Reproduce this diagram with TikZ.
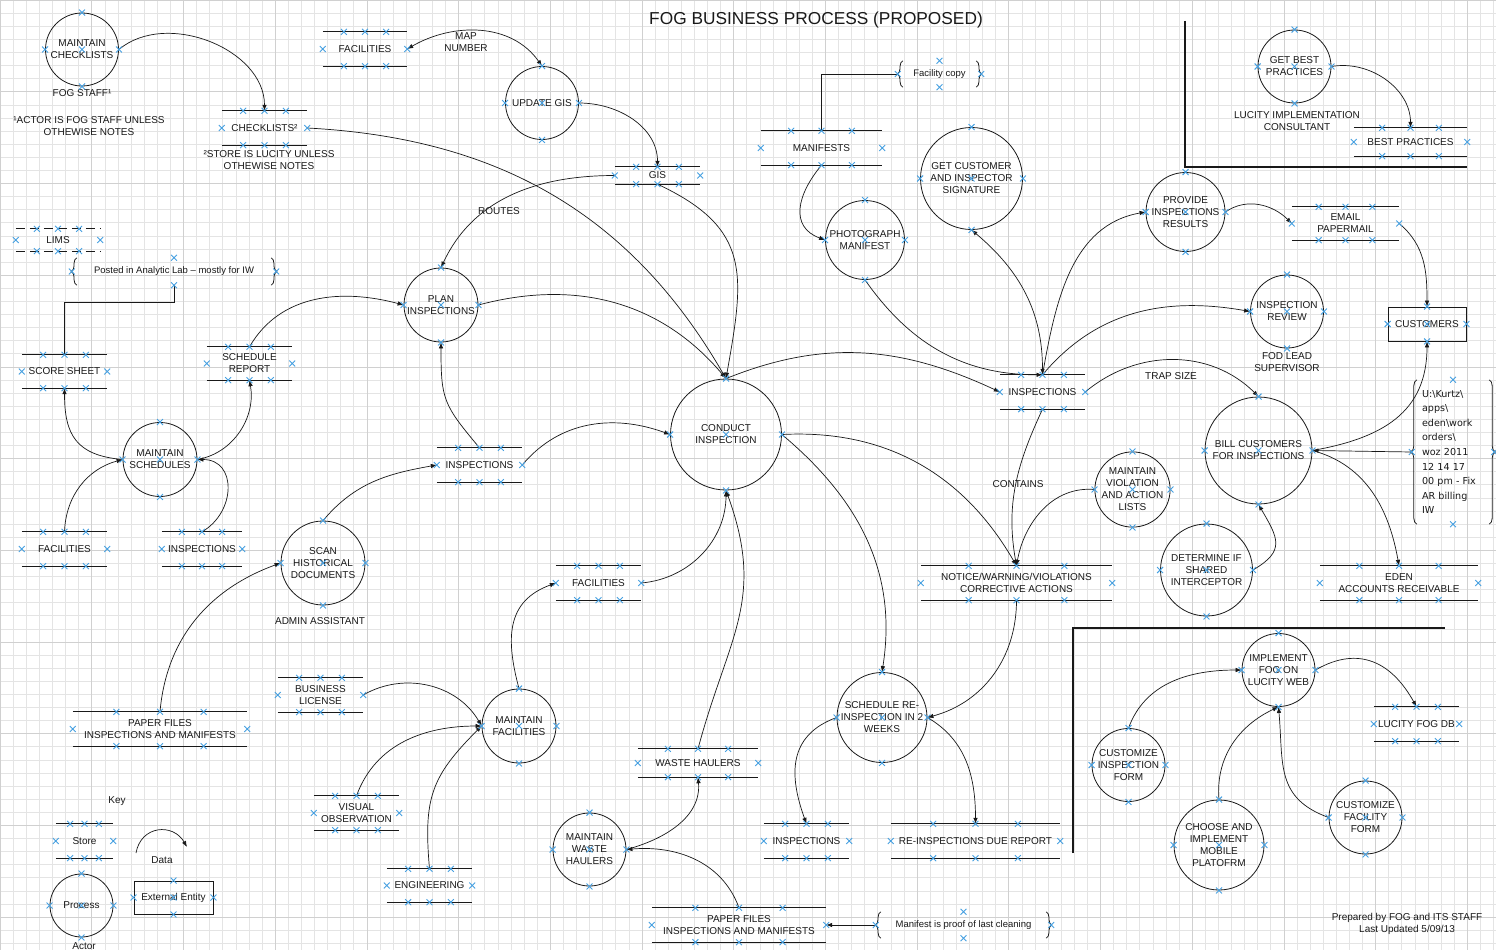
\documentclass[tikz,border=0pt]{standalone}
\usepackage{fontspec}
\setmainfont{Liberation Sans}
\newfontfamily\notefont{DejaVu Sans}
\usetikzlibrary{arrows.meta,calc,shapes.misc,decorations.pathreplacing}
\definecolor{xblue}{RGB}{70,160,225}
\definecolor{gridminor}{RGB}{228,228,228}
\definecolor{gridmajor}{RGB}{208,208,208}
\definecolor{ink}{RGB}{25,25,25}
\newcommand\bracesof[2][5.5pt]{%
  \draw[braceline,decoration={brace,amplitude=#1}] ($(#2.south west)+(5,0)$) -- ($(#2.north west)+(5,0)$);
  \draw[braceline,decoration={brace,amplitude=#1}] ($(#2.north east)+(-5,0)$) -- ($(#2.south east)+(-5,0)$);}
\begin{document}
\begin{tikzpicture}[x=1pt,y=-1pt,
  lbl/.style={font=\fontsize{10}{12}\selectfont, align=center, inner sep=0pt, text=ink},
  smallnote/.style={font=\fontsize{9.5}{11}\selectfont, align=center, inner sep=0pt, text=ink},
  proc/.style={circle, draw=ink, line width=0.8pt, inner sep=0pt, lbl},
  store/.style={rectangle, inner sep=0pt, lbl},
  ent/.style={rectangle, draw=ink, line width=0.8pt, inner sep=0pt, lbl},
  notebox/.style={rectangle, inner sep=0pt, smallnote},
  storeline/.style={draw=ink, line width=0.8pt},
  braceline/.style={draw=ink, line width=0.8pt, decorate},
  flow/.style={draw=ink, line width=0.7pt, -{Latex[length=6pt,width=4.5pt]}},
  flowboth/.style={draw=ink, line width=0.7pt, {Latex[length=6pt,width=4.5pt]}-{Latex[length=6pt,width=4.5pt]}},
  conn/.style={draw=ink, line width=0.7pt},
  bound/.style={draw=ink, line width=1.2pt},
  xm/.style={cross out, draw=xblue, line width=0.9pt, minimum size=5pt, inner sep=0pt},
]
\useasboundingbox (0,0) rectangle (1496,950);
\fill[white] (0,0) rectangle (1496,950);
% grid
\foreach \i in {0,...,114} {\draw[gridminor, line width=0.6pt] ({\i*13.1},0) -- ({\i*13.1},950);}
\foreach \j in {0,...,73} {\draw[gridminor, line width=0.6pt] (0,{\j*13.1}) -- (1496,{\j*13.1});}
\foreach \i in {0,...,16} {\draw[gridmajor, line width=0.6pt] ({\i*91.7},0) -- ({\i*91.7},950);}
\foreach \j in {0,...,10} {\draw[gridmajor, line width=0.6pt] (0,{\j*91.7}) -- (1496,{\j*91.7});}

% title
\node[font=\fontsize{17.3}{20}\selectfont, text=ink] (title) at (816,20) {FOG BUSINESS PROCESS (PROPOSED)};

% boundaries
\draw[bound] (1185,21) -- (1185,167) -- (1467,167);
\draw[bound] (1073,853) -- (1073,628) -- (1445,628);

% processes
\node[proc, minimum size=73] (mchk) at (82,49.5) {MAINTAIN\\CHECKLISTS};
\node[proc, minimum size=73] (ugis) at (542,103) {UPDATE GIS};
\node[proc, minimum size=74] (plan) at (441,305) {PLAN\\INSPECTIONS};
\node[proc, minimum size=74] (mschd) at (160,459.5) {MAINTAIN\\SCHEDULES};
\node[proc, minimum size=84] (scan) at (323,563) {SCAN\\HISTORICAL\\DOCUMENTS};
\node[proc, minimum size=111] (cond) at (726,434.5) {CONDUCT\\INSPECTION};
\node[proc, minimum size=79] (photo) at (865,240) {PHOTOGRAPH\\MANIFEST};
\node[proc, minimum size=102] (getc) at (971.5,178.5) {GET CUSTOMER\\AND INSPECTOR\\SIGNATURE};
\node[proc, minimum size=79] (prov) at (1185.5,212) {PROVIDE\\INSPECTIONS\\RESULTS};
\node[proc, minimum size=73] (gbp) at (1294.5,66.5) {GET BEST\\PRACTICES};
\node[proc, minimum size=73] (rev) at (1287,311.5) {INSPECTION\\REVIEW};
\node[proc, minimum size=107] (bill) at (1258.5,450.5) {BILL CUSTOMERS\\FOR INSPECTIONS};
\node[proc, minimum size=73] (mviol) at (1132.5,489.5) {MAINTAIN\\VIOLATION\\AND ACTION\\LISTS};
\node[proc, minimum size=92] (det) at (1206.5,570) {DETERMINE IF\\SHARED\\INTERCEPTOR};
\node[proc, minimum size=73] (impl) at (1278.5,670) {IMPLEMENT\\FOG ON\\LUCITY WEB};
\node[proc, minimum size=73] (cinsp) at (1128.5,765) {CUSTOMIZE\\INSPECTION\\FORM};
\node[proc, minimum size=90] (choose) at (1219,845) {CHOOSE AND\\IMPLEMENT\\MOBILE\\PLATOFRM};
\node[proc, minimum size=73] (cfac) at (1365.5,817.5) {CUSTOMIZE\\FACILITY\\FORM};
\node[proc, minimum size=90] (sched) at (882,717.5) {SCHEDULE RE-\\INSPECTION IN 2\\WEEKS};
\node[proc, minimum size=73] (mwh) at (589.5,849.5) {MAINTAIN\\WASTE\\HAULERS};
\node[proc, minimum size=74] (mfac) at (519,726) {MAINTAIN\\FACILITIES};
\node[proc, minimum size=63] (kproc) at (81.5,905.5) {Process};

% stores
\node[store, minimum width=84, minimum height=34] (fac1) at (365,49) {FACILITIES};
\node[store, minimum width=85, minimum height=34] (chk) at (264.5,128) {CHECKLISTS²};
\node[store, minimum width=85, minimum height=17] (gis) at (657.5,175.5) {GIS};
\node[store, minimum width=85, minimum height=33] (score) at (64.5,371.5) {SCORE SHEET};
\node[store, minimum width=85, minimum height=33] (srep) at (249.5,363.5) {SCHEDULE\\REPORT};
\node[store, minimum width=85, minimum height=34] (fac3) at (64.5,549) {FACILITIES};
\node[store, minimum width=80, minimum height=34] (insp2) at (202,549) {INSPECTIONS};
\node[store, minimum width=85, minimum height=34] (insp1) at (479.5,465) {INSPECTIONS};
\node[store, minimum width=85, minimum height=34] (fac2) at (598.5,583) {FACILITIES};
\node[store, minimum width=121, minimum height=34] (mani) at (821.5,148) {MANIFESTS};
\node[store, minimum width=113, minimum height=28] (bp) at (1410.5,142) {BEST PRACTICES};
\node[store, minimum width=107, minimum height=33] (email) at (1345.5,223.5) {EMAIL\\PAPERMAIL};
\node[store, minimum width=85, minimum height=34] (insp3) at (1042.5,392) {INSPECTIONS};
\node[store, minimum width=191, minimum height=34] (notice) at (1016.5,583) {NOTICE/WARNING/VIOLATIONS\\CORRECTIVE ACTIONS};
\node[store, minimum width=158, minimum height=34] (eden) at (1399,583) {EDEN\\ACCOUNTS RECEIVABLE};
\node[store, minimum width=85, minimum height=34] (lfdb) at (1416.5,724) {LUCITY FOG DB};
\node[store, minimum width=85, minimum height=34] (insp4) at (806.5,841) {INSPECTIONS};
\node[store, minimum width=169, minimum height=34] (rdue) at (975.5,841) {RE-INSPECTIONS DUE REPORT};
\node[store, minimum width=174, minimum height=34] (pf2) at (739,925) {PAPER FILES\\INSPECTIONS AND MANIFESTS};
\node[store, minimum width=120, minimum height=28] (wh) at (698,763) {WASTE HAULERS};
\node[store, minimum width=85, minimum height=33] (eng) at (429.5,885.5) {ENGINEERING};
\node[store, minimum width=85, minimum height=34] (vis) at (356.5,813) {VISUAL\\OBSERVATION};
\node[store, minimum width=85, minimum height=34] (blic) at (320.5,695) {BUSINESS\\LICENSE};
\node[store, minimum width=174, minimum height=34] (pf1) at (160,729) {PAPER FILES\\INSPECTIONS AND MANIFESTS};
\node[store, minimum width=57, minimum height=34] (kstore) at (84.5,841) {Store};
\node[store, minimum width=84, minimum height=22] (lims) at (58,240) {LIMS};
\foreach \n in {fac1,chk,gis,score,srep,fac3,insp2,insp1,fac2,mani,bp,email,insp3,notice,eden,lfdb,insp4,rdue,pf2,wh,eng,vis,blic,pf1,kstore}
  {\draw[storeline] (\n.north west) -- (\n.north east) (\n.south west) -- (\n.south east);}
\draw[storeline, dash pattern=on 9pt off 5pt] (lims.north west) -- (lims.north east) (lims.south west) -- (lims.south east);

% external entities
\node[ent, minimum width=78, minimum height=34] (cust) at (1427,324) {CUSTOMERS};
\node[ent, minimum width=79, minimum height=33] (kent) at (173.5,897.5) {External Entity};

% notes with braces
\node[notebox, minimum width=204, minimum height=27] (pn) at (174,271.5) {Posted in Analytic Lab -- mostly for IW};
\node[notebox, minimum width=83, minimum height=26] (fc) at (939.5,74) {Facility copy};
\node[notebox, minimum width=175, minimum height=26] (mn) at (963.5,925) {Manifest is proof of last cleaning};
\node[notebox, minimum width=82, minimum height=144, text width=62, align=left, font=\notefont\fontsize{9.6}{14.6}\selectfont] (un) at (1453,452)
  {U:\textbackslash Kurtz\textbackslash\\apps\textbackslash\\eden\textbackslash work\\orders\textbackslash\\woz 2011\\12 14 17\\00 pm - Fix\\AR billing\\IW};
\bracesof{pn}
\bracesof{fc}
\bracesof{mn}
\bracesof[6pt]{un}

% free labels
\node[lbl] (lfog) at (82,93) {FOG STAFF¹};
\node[lbl] (lactor) at (89,126) {¹ACTOR IS FOG STAFF UNLESS\\OTHEWISE NOTES};
\node[lbl] (lstore) at (269,160) {²STORE IS LUCITY UNLESS\\OTHEWISE NOTES};
\node[lbl] (ladmin) at (320,621) {ADMIN ASSISTANT};
\node[lbl] (lcons) at (1297,121) {LUCITY IMPLEMENTATION\\CONSULTANT};
\node[lbl] (llead) at (1287,362) {FOD LEAD\\SUPERVISOR};
\node[lbl] (lkey) at (117,801) {Key};
\node[lbl] (ldata) at (162,860) {Data};
\node[lbl] (lactor2) at (84,946) {Actor};
\node[lbl] (lprep) at (1407,924) {Prepared by FOG and ITS STAFF\\Last Updated 5/09/13};

% connectors
\draw[flow] (mchk.east) to[out=40,in=90] (chk.north);
\draw[flow] (chk.east) to[out=-3,in=120] (cond.north);
\draw[flowboth] (fac1.east) to[out=30,in=125] (ugis.north);
\node[lbl] (mapl) at (466,42) {MAP\\NUMBER};
\draw[flow] (ugis.east) to[out=0,in=90] (gis.north);
\draw[flow] (gis.west) to[out=180,in=65] (plan.north);
\node[lbl] (routes) at (499,211) {ROUTES};
\draw[flow] (gis.south) to[out=-25,in=80,looseness=1.3] (cond.north);
\draw[flow] (srep.north) to[out=60,in=165] (plan.west);
\draw[flow] (plan.east) to[out=15,in=130] (cond.north);
\draw[flow] (insp1.north) to[out=130,in=-90,looseness=1.3] (plan.south);
\draw[flow] (scan.north) to[out=50,in=190] (insp1.west);
\draw[flow] (insp1.east) to[out=50,in=160] (cond.west);
\draw[flow] (fac2.east) to[out=5,in=-90] (cond.south);
\draw[flow] (mfac.north) to[out=105,in=200,looseness=1.2] (fac2.west);
\draw[flow] (blic.east) to[out=30,in=120] (mfac.west);
\draw[flow] (vis.north) to[out=70,in=180] (mfac.west);
\draw[flow] (eng.north) to[out=95,in=225,looseness=1.2] (mfac.west);
\draw[flow] (pf1.north) to[out=85,in=200] (scan.west);
\draw[flow] (mschd.west) to[out=175,in=-90,looseness=1.3] (score.south);
\draw[flow] (fac3.north) to[out=88,in=195] (mschd.west);
\draw[flow] (mschd.east) to[out=10,in=-80] (srep.south);
\draw[flow] (insp2.north) to[out=30,in=0,looseness=1.4] (mschd.east);
\draw[flow] (cond.north) to[out=22,in=155] (insp3.west);
\draw[flow] (photo.south) to[out=-55,in=180] (insp3.north);
\draw[flowboth] (getc.south) to[out=-40,in=90] (insp3.north);
\draw[flow] (insp3.north) to[out=80,in=190] (prov.west);
\draw[flow] (insp3.north) to[out=50,in=170] (rev.west);
\draw[flow] (insp3.east) to[out=40,in=135] (bill.north);
\node[lbl] (trap) at (1171,376) {TRAP SIZE};
\draw[flow] (insp3.south) to[out=-115,in=100] (notice.north);
\node[lbl] (contains) at (1018,484) {CONTAINS};
\draw[flow] (mviol.west) to[out=175,in=80] (notice.north);
\draw[flow] (cond.east) to[out=3,in=120] (notice.north);
\draw[flow] (cond.east) to[out=-40,in=81] (sched.north);
\draw[flow] (notice.south) to[out=-90,in=15] (sched.east);
\draw[flow] (sched.west) to[out=200,in=110,looseness=1.2] (insp4.north);
\draw[flow] (sched.east) to[out=-30,in=90] (rdue.north);
\draw[flow] (mwh.east) to[out=15,in=-85] (wh.south);
\draw[flow] (pf2.north) to[out=110,in=5] (mwh.east);
\draw[flow] (wh.north) to[out=75,in=-70,looseness=1.15] (cond.south);
\draw[flow] (bill.east) to[out=10,in=-90,looseness=1.15] (cust.south);
\draw[flow] (un.west) -- (bill.east);
\draw[flow] (bill.east) to[out=-15,in=100] (eden.north);
\draw[flow] (det.east) to[out=30,in=-60,looseness=1.5] (bill.south);
\draw[flow] (gbp.east) to[out=10,in=90] (bp.north);
\draw[flow] (prov.east) to[out=35,in=135] (email.west);
\draw[flow] (email.east) to[out=-40,in=90] (cust.north);
\draw[flow] (mani.south) to[out=-130,in=160,looseness=1.3] (photo.west);
\draw[conn] (mani.north) |- (fc.west);
\draw[conn] (pn.south) -- ++(0,17) -| (score.north);
\draw[flow] (mn.west) -- (pf2.east);
\draw[flow] (cinsp.north) to[out=70,in=180] (impl.west);
\draw[flow] (impl.east) to[out=30,in=119,looseness=1.2] (lfdb.north);
\draw[flow] (choose.north) to[out=95,in=205] (impl.south);
\draw[flow] (cfac.west) to[out=160,in=-85,looseness=1.2] (impl.south);
% key data arrow
\coordinate (d1) at (136,853);
\coordinate (d2) at (187,847);
\draw[flow] (d1) to[out=80,in=120,looseness=1.4] (d2);

% connection point marks
\foreach \n in {mchk,ugis,plan,mschd,scan,cond,photo,getc,prov,gbp,rev,bill,mviol,det,impl,cinsp,choose,cfac,sched,mwh,mfac,kproc,cust,kent}
  {\foreach \p in {north,south,east,west,center} {\node[xm] at (\n.\p) {};}}
\foreach \n in {fac1,chk,gis,score,srep,fac3,insp2,insp1,fac2,mani,bp,email,insp3,notice,eden,lfdb,insp4,rdue,pf2,wh,eng,vis,blic,pf1,kstore,lims}
  {\node[xm] at (\n.west) {};
   \node[xm] at (\n.east) {};
   \foreach \f in {0.25,0.5,0.75} {
     \node[xm] at ($(\n.north west)!\f!(\n.north east)$) {};
     \node[xm] at ($(\n.south west)!\f!(\n.south east)$) {};}}
\foreach \n in {pn,fc,mn,un}
  {\foreach \p in {north,south,east,west} {\node[xm] at (\n.\p) {};}}
\end{tikzpicture}
\end{document}
